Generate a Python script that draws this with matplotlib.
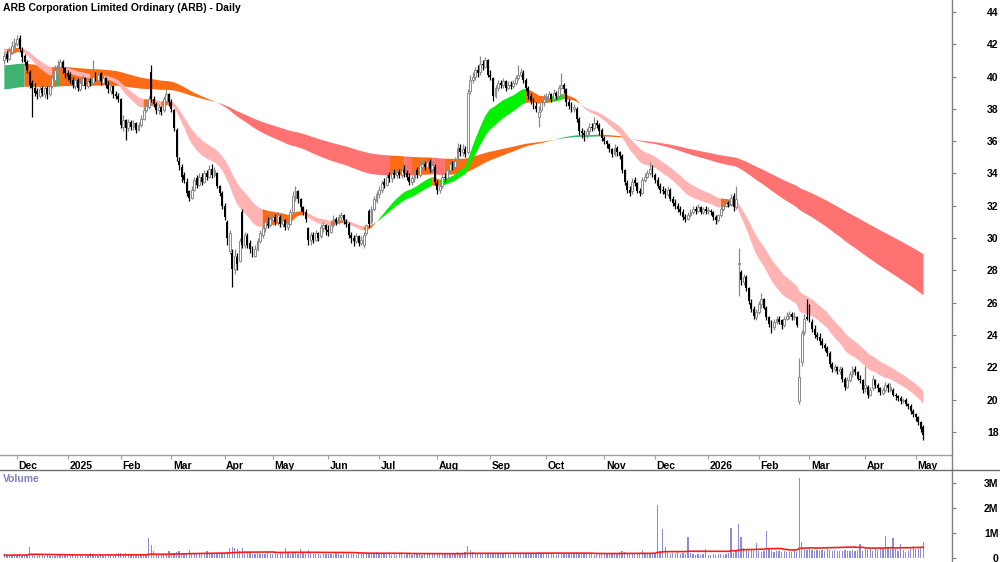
import numpy as np
import pandas as pd
import matplotlib
matplotlib.use("Agg")
import matplotlib.pyplot as plt
from matplotlib.transforms import ScaledTranslation
from matplotlib.lines import Line2D

plt.rcParams['font.family'] = ['Liberation Sans', 'DejaVu Sans']

TITLE = "ARB Corporation Limited Ordinary (ARB) - Daily"
START, END = "2024-11-25", "2026-05-06"
HOLIDAYS = ["2024-12-25", "2024-12-26", "2025-01-01", "2025-01-27", "2025-04-18",
            "2025-04-21", "2025-04-25", "2025-06-09", "2025-12-25", "2025-12-26",
            "2026-01-01", "2026-01-26", "2026-04-03", "2026-04-06"]

# ---------------- daily OHLC (A$) and volume (millions) by month ----------------
o_2411 = [41.0, 41.4, 41.1, 41.5, 41.8]
h_2411 = [41.5, 41.6, 41.8, 42.2, 42.4]
l_2411 = [40.8, 40.9, 41.0, 41.4, 41.7]
c_2411 = [41.3, 41.1, 41.6, 41.9, 42.1]
v_2411 = [0.12, 0.10, 0.11, 0.13, 0.12]

o_2412 = [42.0, 42.4, 41.6, 41.3, 40.9, 40.3, 39.6, 39.3, 39.1, 38.8, 39.3, 38.9, 39.3, 38.9, 39.4, 39.8, 40.4, 40.6, 40.9, 40.5]
h_2412 = [42.6, 42.6, 41.8, 41.4, 41.0, 40.4, 39.8, 39.6, 39.3, 39.4, 39.4, 39.5, 39.4, 39.6, 40.1, 40.7, 41.0, 41.1, 41.0, 40.6]
l_2412 = [41.9, 41.5, 40.9, 40.7, 40.2, 39.3, 37.5, 38.8, 38.6, 38.7, 38.8, 38.7, 38.6, 38.8, 39.3, 39.7, 40.2, 40.5, 40.2, 39.9]
c_2412 = [42.3, 41.7, 41.2, 40.9, 40.4, 39.5, 39.3, 39.0, 38.9, 39.2, 39.0, 39.3, 38.9, 39.4, 39.9, 40.4, 40.7, 40.9, 40.5, 40.2]
v_2412 = [0.14, 0.12, 0.10, 0.11, 0.13, 0.45, 0.18, 0.14, 0.12, 0.11, 0.13, 0.10, 0.12, 0.09, 0.10, 0.08, 0.12, 0.11, 0.10, 0.13]

o_2501 = [40.2, 40.1, 39.8, 39.4, 39.8, 39.2, 39.5, 39.9, 39.4, 39.7, 39.6, 40.1, 39.8, 40.2, 39.6, 39.9, 39.5, 39.1, 39.4, 38.9, 38.8]
h_2501 = [40.4, 40.3, 40.0, 40.0, 39.9, 39.8, 40.1, 40.0, 39.9, 39.9, 41.0, 40.3, 40.3, 40.3, 40.1, 40.0, 39.7, 39.6, 39.5, 39.1, 39.0]
l_2501 = [39.8, 39.6, 39.3, 39.2, 39.1, 39.1, 39.4, 39.2, 39.3, 39.4, 39.5, 39.7, 39.7, 39.5, 39.5, 39.3, 39.0, 38.9, 38.7, 38.6, 38.4]
c_2501 = [40.0, 39.8, 39.5, 39.8, 39.3, 39.6, 39.9, 39.4, 39.7, 39.6, 40.0, 39.9, 40.1, 39.7, 39.9, 39.5, 39.2, 39.4, 38.9, 38.8, 38.6]
v_2501 = [0.10, 0.09, 0.11, 0.08, 0.10, 0.12, 0.09, 0.10, 0.11, 0.20, 0.12, 0.10, 0.09, 0.11, 0.08, 0.10, 0.12, 0.11, 0.10, 0.13, 0.20]

o_2502 = [38.6, 36.9, 37.3, 36.8, 37.2, 36.9, 37.1, 36.7, 37.0, 37.4, 37.9, 38.1, 40.3, 38.6, 38.3, 37.9, 38.1, 37.9, 38.5, 38.9]
h_2502 = [38.7, 37.6, 37.4, 37.4, 37.3, 37.3, 37.2, 37.2, 37.6, 38.1, 38.4, 38.8, 40.7, 38.8, 38.4, 38.3, 38.2, 38.8, 39.2, 39.0]
l_2502 = [36.8, 36.6, 36.1, 36.6, 36.7, 36.7, 36.5, 36.6, 36.9, 37.3, 37.8, 38.0, 38.4, 38.1, 37.7, 37.7, 37.6, 37.8, 38.4, 38.2]
c_2502 = [37.0, 37.3, 36.8, 37.2, 36.9, 37.1, 36.7, 37.0, 37.4, 37.9, 38.2, 38.6, 38.6, 38.3, 37.9, 38.1, 37.8, 38.6, 38.9, 38.4]
v_2502 = [0.22, 0.18, 0.21, 0.15, 0.12, 0.14, 0.13, 0.11, 0.12, 0.14, 0.15, 0.80, 0.52, 0.30, 0.18, 0.15, 0.13, 0.16, 0.14, 0.30]

o_2503 = [38.4, 37.9, 36.7, 34.8, 34.4, 33.9, 33.5, 32.9, 32.5, 33.0, 33.7, 33.3, 33.8, 33.5, 34.0, 33.8, 34.3, 33.9, 34.0, 33.2, 32.8]
h_2503 = [38.6, 38.0, 36.8, 35.0, 34.6, 34.1, 33.7, 33.0, 33.2, 33.8, 33.9, 34.0, 34.0, 34.2, 34.2, 34.5, 34.6, 34.4, 34.1, 33.3, 32.9]
l_2503 = [37.8, 36.6, 34.8, 34.2, 33.5, 33.4, 32.6, 32.3, 32.4, 32.9, 33.1, 33.2, 33.3, 33.4, 33.6, 33.7, 33.7, 33.8, 33.1, 32.6, 31.8]
c_2503 = [38.0, 36.8, 35.0, 34.5, 33.8, 33.6, 32.8, 32.5, 33.0, 33.6, 33.3, 33.8, 33.5, 34.0, 33.8, 34.3, 33.9, 34.2, 33.2, 32.8, 32.0]
v_2503 = [0.20, 0.22, 0.25, 0.30, 0.18, 0.16, 0.22, 0.32, 0.20, 0.17, 0.15, 0.18, 0.16, 0.20, 0.30, 0.19, 0.15, 0.17, 0.16, 0.20, 0.22]

o_2504 = [32.0, 31.0, 29.2, 29.1, 28.1, 28.8, 28.6, 31.6, 29.6, 30.1, 29.7, 29.3, 28.9, 29.3, 29.8, 30.2, 30.6, 30.9, 30.8]
h_2504 = [32.2, 31.1, 30.5, 29.3, 29.3, 29.1, 30.0, 31.8, 30.4, 30.3, 29.9, 29.5, 29.6, 30.0, 30.5, 30.8, 31.2, 31.3, 31.5]
l_2504 = [31.1, 29.6, 29.0, 27.0, 27.8, 28.0, 28.5, 29.4, 29.4, 29.4, 29.1, 28.8, 28.8, 29.2, 29.7, 30.0, 30.4, 30.6, 30.7]
c_2504 = [31.3, 30.0, 30.3, 28.1, 28.9, 28.4, 29.8, 29.6, 30.2, 29.6, 29.3, 29.0, 29.3, 29.8, 30.3, 30.6, 31.0, 30.8, 31.2]
v_2504 = [0.22, 0.25, 0.42, 0.45, 0.40, 0.35, 0.30, 0.40, 0.25, 0.22, 0.20, 0.18, 0.16, 0.20, 0.18, 0.17, 0.15, 0.19, 0.16]

o_2505 = [31.1, 31.3, 31.0, 31.3, 30.9, 31.1, 30.7, 30.9, 31.6, 32.5, 32.9, 32.4, 31.9, 31.6, 30.6, 29.9, 30.2, 29.9, 30.3, 30.1, 30.6, 30.8]
h_2505 = [31.6, 31.5, 31.6, 31.4, 31.3, 31.2, 31.1, 31.8, 32.9, 33.2, 33.0, 32.5, 32.0, 31.8, 30.7, 30.4, 30.4, 30.5, 30.4, 30.9, 31.0, 30.9]
l_2505 = [30.9, 30.8, 30.8, 30.7, 30.7, 30.5, 30.5, 30.8, 31.5, 32.3, 32.2, 31.7, 31.4, 31.0, 29.6, 29.6, 29.7, 29.8, 29.8, 30.0, 30.4, 30.2]
c_2505 = [31.3, 31.0, 31.4, 30.9, 31.1, 30.7, 30.9, 31.6, 32.6, 32.9, 32.4, 31.9, 31.6, 31.2, 29.9, 30.2, 29.9, 30.3, 30.0, 30.7, 30.8, 30.5]
v_2505 = [0.18, 0.20, 0.16, 0.22, 0.25, 0.40, 0.20, 0.18, 0.22, 0.19, 0.17, 0.36, 0.20, 0.18, 0.32, 0.22, 0.18, 0.15, 0.17, 0.14, 0.16, 0.18]

o_2506 = [30.5, 30.4, 30.8, 31.2, 31.0, 31.3, 31.4, 31.0, 30.9, 30.2, 30.0, 29.8, 30.1, 29.7, 29.6, 30.3, 31.7, 31.0, 31.8, 32.3]
h_2506 = [30.8, 31.0, 31.4, 31.3, 31.5, 31.6, 31.5, 31.2, 31.0, 30.4, 30.2, 30.3, 30.2, 30.1, 30.4, 30.9, 31.8, 32.0, 32.6, 32.9]
l_2506 = [30.1, 30.3, 30.7, 30.8, 30.9, 31.1, 30.9, 30.7, 30.0, 29.7, 29.5, 29.7, 29.5, 29.6, 29.4, 30.2, 30.7, 30.9, 31.7, 32.2]
c_2506 = [30.4, 30.8, 31.2, 31.0, 31.3, 31.4, 31.1, 30.9, 30.2, 30.0, 29.8, 30.1, 29.7, 29.9, 30.2, 30.8, 30.9, 31.8, 32.4, 32.7]
v_2506 = [0.15, 0.17, 0.14, 0.20, 0.16, 0.13, 0.15, 0.18, 0.22, 0.17, 0.15, 0.14, 0.25, 0.16, 0.18, 0.22, 0.20, 0.17, 0.19, 0.24]

o_2507 = [32.7, 33.0, 33.5, 33.3, 33.9, 33.7, 34.0, 33.9, 34.1, 33.9, 34.2, 34.0, 33.8, 33.5, 33.7, 34.2, 33.9, 34.4, 34.6, 34.4, 34.7, 34.3, 34.4]
h_2507 = [33.2, 33.6, 33.7, 34.0, 34.1, 34.2, 34.3, 34.4, 34.3, 34.4, 34.5, 34.2, 34.0, 33.9, 34.3, 34.4, 34.7, 34.9, 34.8, 34.9, 34.9, 34.8, 34.6]
l_2507 = [32.5, 32.8, 33.1, 33.2, 33.5, 33.5, 33.7, 33.7, 33.7, 33.7, 33.8, 33.6, 33.3, 33.3, 33.5, 33.7, 33.8, 34.2, 34.2, 34.2, 34.1, 34.1, 33.3]
c_2507 = [33.0, 33.4, 33.3, 33.8, 33.7, 34.0, 33.9, 34.1, 33.9, 34.2, 34.0, 33.8, 33.5, 33.7, 34.1, 33.9, 34.5, 34.6, 34.4, 34.7, 34.3, 34.5, 33.5]
v_2507 = [0.18, 0.16, 0.20, 0.15, 0.17, 0.14, 0.16, 0.13, 0.15, 0.18, 0.14, 0.16, 0.15, 0.13, 0.17, 0.15, 0.19, 0.14, 0.16, 0.15, 0.18, 0.17, 0.22]

o_2508 = [33.4, 33.0, 33.2, 33.8, 33.7, 34.2, 34.6, 34.4, 34.9, 35.6, 35.3, 35.5, 35.3, 39.1, 39.8, 40.0, 40.4, 40.3, 40.8, 40.6, 41.0]
h_2508 = [33.6, 33.4, 34.0, 34.0, 34.4, 34.8, 34.8, 35.0, 35.9, 35.8, 35.8, 35.7, 39.2, 40.1, 40.3, 40.6, 40.7, 41.3, 41.0, 41.2, 41.1]
l_2508 = [32.7, 32.8, 33.1, 33.5, 33.6, 34.1, 34.2, 34.3, 34.8, 35.1, 35.1, 35.0, 35.2, 38.9, 39.6, 39.8, 40.0, 40.1, 40.4, 40.5, 40.0]
c_2508 = [33.0, 33.2, 33.8, 33.7, 34.2, 34.6, 34.4, 34.8, 35.6, 35.3, 35.5, 35.2, 39.0, 39.8, 40.0, 40.4, 40.2, 40.8, 40.7, 41.0, 40.1]
v_2508 = [0.20, 0.18, 0.16, 0.15, 0.17, 0.16, 0.18, 0.20, 0.25, 0.22, 0.19, 0.24, 0.48, 0.32, 0.25, 0.22, 0.20, 0.18, 0.22, 0.19, 0.21]

o_2509 = [40.1, 39.9, 38.8, 39.3, 39.6, 39.5, 39.7, 39.3, 39.5, 39.4, 39.6, 39.9, 40.1, 40.2, 39.8, 39.3, 38.8, 38.5, 38.2, 37.5, 37.9, 38.4]
h_2509 = [40.4, 40.0, 39.5, 39.8, 39.8, 39.9, 39.8, 39.7, 39.7, 39.8, 40.1, 40.7, 40.5, 40.4, 39.9, 39.4, 39.0, 38.7, 38.4, 38.2, 38.6, 38.9]
l_2509 = [39.8, 38.5, 38.7, 39.1, 39.3, 39.3, 39.1, 39.2, 39.2, 39.3, 39.5, 39.8, 40.0, 39.6, 39.1, 38.6, 38.3, 38.0, 37.8, 36.9, 37.8, 38.2]
c_2509 = [40.0, 38.8, 39.3, 39.6, 39.5, 39.7, 39.3, 39.5, 39.4, 39.6, 39.9, 40.1, 40.3, 39.8, 39.3, 38.8, 38.5, 38.2, 38.0, 37.8, 38.4, 38.6]
v_2509 = [0.18, 0.20, 0.17, 0.16, 0.18, 0.15, 0.17, 0.16, 0.14, 0.18, 0.16, 0.19, 0.17, 0.22, 0.18, 0.20, 0.17, 0.19, 0.21, 0.24, 0.18, 0.20]

o_2510 = [38.6, 38.7, 38.9, 38.6, 39.0, 38.8, 39.3, 39.5, 39.2, 38.4, 38.2, 38.0, 38.0, 37.4, 36.6, 36.5, 36.4, 36.6, 36.9, 36.8, 37.1, 37.0, 36.7]
h_2510 = [39.0, 39.1, 39.0, 39.2, 39.1, 39.5, 40.2, 39.6, 39.3, 38.6, 38.4, 38.3, 38.1, 37.5, 36.8, 36.7, 36.8, 37.1, 37.1, 37.5, 37.3, 37.1, 36.8]
l_2510 = [38.4, 38.5, 38.4, 38.5, 38.6, 38.7, 39.2, 39.0, 38.2, 38.0, 37.8, 37.8, 37.2, 36.4, 36.2, 36.0, 36.2, 36.4, 36.6, 36.7, 36.8, 36.4, 36.0]
c_2510 = [38.7, 38.9, 38.6, 39.0, 38.8, 39.3, 39.5, 39.2, 38.4, 38.2, 38.0, 38.1, 37.4, 36.6, 36.5, 36.4, 36.6, 36.9, 36.8, 37.1, 37.0, 36.6, 36.2]
v_2510 = [0.17, 0.15, 0.18, 0.16, 0.14, 0.17, 0.20, 0.18, 0.22, 0.16, 0.15, 0.17, 0.24, 0.20, 0.18, 0.16, 0.17, 0.15, 0.16, 0.14, 0.18, 0.17, 0.19]

o_2511 = [36.2, 36.0, 35.8, 35.5, 35.2, 35.6, 35.3, 35.1, 34.2, 33.4, 33.0, 32.9, 33.6, 33.4, 32.9, 32.8, 33.6, 33.8, 34.0, 34.4]
h_2511 = [36.3, 36.1, 35.9, 35.6, 35.8, 35.7, 35.4, 35.2, 34.3, 33.6, 33.2, 33.7, 33.8, 33.5, 33.1, 33.8, 34.0, 34.2, 34.7, 34.5]
l_2511 = [35.8, 35.6, 35.3, 35.0, 35.1, 35.1, 34.9, 34.0, 33.3, 32.8, 32.6, 32.7, 33.2, 32.8, 32.6, 32.7, 33.5, 33.7, 33.9, 33.8]
c_2511 = [36.0, 35.8, 35.5, 35.2, 35.6, 35.3, 35.1, 34.2, 33.5, 33.0, 32.8, 33.5, 33.4, 32.9, 32.8, 33.6, 33.8, 34.0, 34.3, 33.9]
v_2511 = [0.18, 0.16, 0.20, 0.17, 0.22, 0.18, 0.24, 0.30, 0.25, 0.20, 0.18, 0.22, 0.16, 0.19, 0.18, 0.32, 0.20, 0.17, 0.15, 0.18]

o_2512 = [33.9, 33.6, 33.2, 33.0, 32.9, 32.7, 33.0, 32.4, 32.2, 32.0, 31.8, 31.6, 31.3, 31.2, 31.4, 31.6, 31.8, 31.7, 31.9, 31.6, 31.8]
h_2512 = [34.0, 33.8, 33.4, 33.2, 33.1, 33.2, 33.1, 32.6, 32.4, 32.2, 32.0, 31.8, 31.5, 31.6, 31.8, 32.0, 32.0, 32.1, 32.0, 31.9, 32.0]
l_2512 = [33.4, 33.1, 32.8, 32.7, 32.5, 32.6, 32.3, 32.0, 31.8, 31.6, 31.4, 31.1, 31.0, 31.1, 31.3, 31.5, 31.5, 31.6, 31.5, 31.5, 31.5]
c_2512 = [33.6, 33.2, 33.0, 32.9, 32.7, 33.0, 32.4, 32.2, 32.0, 31.8, 31.6, 31.3, 31.2, 31.4, 31.6, 31.8, 31.7, 31.9, 31.6, 31.8, 31.7]
v_2512 = [0.20, 2.13, 0.30, 1.15, 0.45, 0.22, 0.18, 0.20, 0.16, 0.24, 0.18, 0.20, 0.15, 0.84, 0.22, 0.18, 0.12, 0.15, 0.14, 0.16, 0.35]

o_2601 = [31.7, 31.7, 31.6, 31.3, 31.1, 31.4, 31.8, 32.0, 32.2, 32.1, 32.6, 31.9, 28.4, 27.9, 27.3, 27.6, 26.9, 26.0, 25.6, 25.1]
h_2601 = [31.9, 31.8, 31.7, 31.4, 31.5, 31.9, 32.1, 32.4, 32.3, 32.7, 32.8, 33.2, 29.4, 28.0, 27.8, 27.7, 27.0, 26.2, 25.8, 25.6]
l_2601 = [31.5, 31.4, 31.1, 30.9, 31.0, 31.3, 31.7, 31.9, 31.9, 32.0, 31.7, 31.8, 26.4, 27.1, 27.1, 26.7, 25.9, 25.4, 25.0, 24.9]
c_2601 = [31.7, 31.6, 31.3, 31.1, 31.4, 31.8, 32.0, 32.2, 32.1, 32.5, 31.9, 32.4, 28.4, 27.4, 27.6, 26.9, 26.1, 25.6, 25.2, 25.4]
v_2601 = [0.14, 0.12, 0.16, 0.13, 0.15, 0.18, 0.14, 0.16, 0.20, 1.19, 0.22, 0.30, 1.38, 0.85, 0.42, 0.38, 0.30, 0.35, 0.28, 0.60]

o_2602 = [25.4, 25.9, 26.2, 25.7, 25.1, 24.7, 24.5, 24.8, 25.0, 24.9, 24.6, 25.0, 25.2, 25.3, 25.1, 25.1, 19.9, 22.3, 24.2, 25.1]
h_2602 = [26.1, 26.6, 26.3, 25.8, 25.2, 24.9, 25.0, 25.2, 25.2, 25.0, 25.2, 25.4, 25.5, 25.4, 25.4, 25.2, 22.6, 24.3, 25.3, 26.2]
l_2602 = [25.3, 25.7, 25.6, 24.9, 24.5, 24.1, 24.3, 24.7, 24.7, 24.4, 24.5, 24.9, 25.0, 24.9, 24.9, 24.5, 19.7, 22.1, 24.0, 24.9]
c_2602 = [25.9, 26.2, 25.7, 25.1, 24.7, 24.5, 24.8, 25.0, 24.8, 24.6, 25.0, 25.2, 25.3, 25.1, 25.2, 24.6, 21.4, 24.1, 25.0, 25.0]
v_2602 = [0.30, 0.26, 0.28, 1.10, 0.40, 0.28, 0.26, 0.30, 0.27, 0.25, 0.28, 0.24, 0.26, 0.23, 0.28, 0.26, 3.20, 0.65, 0.38, 0.33]

o_2603 = [25.7, 24.8, 24.4, 24.0, 23.9, 23.6, 23.4, 23.2, 22.9, 22.2, 21.9, 22.0, 21.8, 21.9, 21.3, 20.8, 21.2, 21.6, 21.9, 21.7, 21.3, 21.2]
h_2603 = [25.9, 25.0, 24.6, 24.2, 24.1, 23.8, 23.5, 23.3, 23.0, 22.3, 22.2, 22.1, 22.1, 22.0, 21.4, 21.4, 21.8, 22.1, 22.1, 21.8, 21.5, 21.3]
l_2603 = [24.8, 24.2, 23.8, 23.7, 23.4, 23.2, 23.0, 22.7, 22.0, 21.7, 21.7, 21.6, 21.6, 21.1, 20.6, 20.7, 21.1, 21.4, 21.5, 21.2, 21.0, 20.4]
c_2603 = [24.9, 24.4, 24.0, 23.9, 23.6, 23.4, 23.2, 22.9, 22.2, 21.9, 22.0, 21.8, 21.9, 21.3, 20.8, 21.2, 21.6, 21.9, 21.7, 21.3, 21.2, 20.6]
v_2603 = [0.36, 0.33, 0.30, 0.34, 0.28, 0.32, 0.27, 0.38, 0.31, 0.28, 0.33, 0.27, 0.29, 0.30, 0.34, 0.29, 0.27, 0.31, 0.29, 0.33, 0.55, 0.30]

o_2604 = [20.7, 20.8, 20.3, 20.7, 21.2, 20.9, 20.7, 20.4, 20.6, 20.9, 20.6, 20.6, 20.3, 20.2, 20.1, 19.9, 20.0, 19.7, 19.6, 19.3]
h_2604 = [22.1, 20.9, 20.8, 21.5, 21.3, 21.0, 20.8, 20.8, 21.1, 21.0, 21.0, 20.7, 20.4, 20.3, 20.2, 20.1, 20.1, 19.8, 19.7, 19.4]
l_2604 = [20.5, 20.1, 20.2, 20.6, 20.7, 20.5, 20.3, 20.3, 20.5, 20.5, 20.5, 20.2, 20.0, 19.9, 19.7, 19.8, 19.6, 19.4, 19.1, 18.9]
c_2604 = [20.9, 20.3, 20.6, 21.3, 20.9, 20.7, 20.5, 20.6, 20.9, 20.7, 20.8, 20.3, 20.2, 20.1, 19.9, 20.0, 19.7, 19.6, 19.3, 19.1]
v_2604 = [0.35, 0.32, 0.38, 0.30, 0.36, 0.33, 0.40, 0.35, 0.90, 0.45, 0.38, 0.80, 0.35, 0.30, 0.55, 0.32, 0.25, 0.30, 0.35, 0.50]

o_2605 = [19.1, 18.9, 18.6, 18.3]
h_2605 = [19.2, 19.0, 18.7, 18.4]
l_2605 = [18.7, 18.4, 18.0, 17.5]
c_2605 = [18.9, 18.6, 18.2, 17.8]
v_2605 = [0.38, 0.35, 0.40, 0.65]

# moving-average ribbon settings (EMA periods and values at the first bar)
short_periods = (21, 34)
short_seed = (41.30, 41.75)
long_periods = (144, 233)
long_seed = (40.70, 39.20)
vol_ma_period = 50

MONTHS = ["2411", "2412", "2501", "2502", "2503", "2504", "2505", "2506", "2507",
          "2508", "2509", "2510", "2511", "2512", "2601", "2602", "2603", "2604", "2605"]
g = globals()
opn = np.concatenate([g["o_" + m] for m in MONTHS])
high = np.concatenate([g["h_" + m] for m in MONTHS])
low = np.concatenate([g["l_" + m] for m in MONTHS])
close = np.concatenate([g["c_" + m] for m in MONTHS])
vol = np.concatenate([g["v_" + m] for m in MONTHS]) * 1e6

dates = pd.bdate_range(START, END)
dates = dates[~dates.isin(pd.to_datetime(HOLIDAYS))]
n = len(close)
dates = dates[:n]
x = np.arange(n)


def ema(values, period, seed):
    a = 2.0 / (period + 1)
    out = np.empty(len(values))
    out[0] = seed
    for i in range(1, len(values)):
        out[i] = out[i - 1] + a * (values[i] - out[i - 1])
    return out


def band_states(fast, slow):
    rising = np.r_[fast[1] > fast[0], fast[1:] > fast[:-1]]
    bull = fast > slow
    return np.where(bull & rising, 0, np.where(~bull & ~rising, 1, 2))


# ---------------- figure ----------------
W, H = 1000, 562
fig = plt.figure(figsize=(W / 100, H / 100), dpi=100)
ax = fig.add_axes([0, 1 - 455 / H, 952 / W, 455 / H])
axv = fig.add_axes([0, 0, 952 / W, 92 / H])

x_left = -1.714
x_right = 374.3
for a in (ax, axv):
    a.set_xlim(x_left, x_right)
    for s in ("left", "top", "right"):
        a.spines[s].set_visible(False)
ax.set_ylim(16.57, 44.74)

# ribbons
sf = ema(close, short_periods[0], short_seed[0])
ss = ema(close, short_periods[1], short_seed[1])
lf = ema(close, long_periods[0], long_seed[0])
ls = ema(close, long_periods[1], long_seed[1])

long_cols = ["#3cb371", "#ff7272", "#ff6a14"]
short_cols = ["#00f000", "#ffb3b3", "#ff6a14"]
for fast, slow, cols, z in ((lf, ls, long_cols, 1), (sf, ss, short_cols, 2)):
    st = band_states(fast, slow)
    for k, col in enumerate(cols):
        m = st == k
        m_ext = m | np.r_[m[1:], False]
        ax.fill_between(x, fast, slow, where=m_ext, color=col, lw=0, zorder=z,
                        interpolate=False)

# candles
up = close >= opn
dn = ~up
ax.vlines(x[up], low[up], high[up], color="#8a8a8a", lw=0.9, zorder=3)
ax.vlines(x[dn], low[dn], high[dn], color="black", lw=0.9, zorder=3)
ax.bar(x[up], np.maximum(close - opn, 0.05)[up], bottom=opn[up], width=0.75,
       facecolor="white", edgecolor="#8a8a8a", linewidth=0.7, zorder=4)
ax.bar(x[dn], np.maximum(opn - close, 0.05)[dn], bottom=close[dn], width=0.75,
       color="black", linewidth=0, zorder=4)

# price axis (right)
ax.yaxis.tick_right()
ax.set_yticks(np.arange(18, 45, 2))
ax.tick_params(axis="y", direction="out", length=3, width=0.8, colors="#808080",
               labelcolor="black", labelsize=7.5, pad=30.5)
for t in ax.get_yticklabels():
    t.set_horizontalalignment("right")
    t.set_fontweight("bold")

# month ticks
month_starts = [i for i in range(1, n) if dates[i].month != dates[i - 1].month]
month_labels = [str(dates[i].year) if dates[i].month == 1 else dates[i].strftime("%b")
                for i in month_starts]
ax.set_xticks(month_starts)
ax.set_xticklabels(month_labels)
ax.tick_params(axis="x", direction="out", length=3, width=0.8, colors="#a0a0a0",
               labelcolor="black", labelsize=7.5, pad=1.0)
off = ScaledTranslation(1.5 / 100, 0, fig.dpi_scale_trans)
for t in ax.get_xticklabels():
    t.set_horizontalalignment("left")
    t.set_fontweight("bold")
    t.set_transform(t.get_transform() + off)
ax.spines["bottom"].set_color("#a0a0a0")
ax.spines["bottom"].set_linewidth(1.0)

# volume
vol_ma = pd.Series(vol).rolling(vol_ma_period, min_periods=1).mean().values
axv.bar(x, vol, width=0.5, color="#8c8cd2", linewidth=0, zorder=2)
axv.plot(x, vol_ma, color="#ff1a1a", lw=1.2, zorder=3)
axv.set_ylim(-0.16e6, 3.52e6)
axv.spines["bottom"].set_visible(False)
axv.set_xticks([])
axv.yaxis.tick_right()
axv.set_yticks([0, 1e6, 2e6, 3e6])
axv.set_yticklabels(["0", "1M", "2M", "3M"])
axv.tick_params(axis="y", direction="out", length=3, width=0.8, colors="#808080",
                labelcolor="black", labelsize=7.5, pad=30.5)
for t in axv.get_yticklabels():
    t.set_horizontalalignment("right")
    t.set_fontweight("bold")

# frame lines
fig.add_artist(Line2D([952 / W, 952 / W], [0, 1], transform=fig.transFigure,
                      color="#808080", lw=1.0))
fig.add_artist(Line2D([0, 1], [1 - 469.5 / H] * 2, transform=fig.transFigure,
                      color="#707070", lw=1.0))

fig.text(3 / W, 1 - 8 / H, TITLE, fontsize=7.5, fontweight="bold", ha="left", va="center")
fig.text(3 / W, 1 - 479 / H, "Volume", fontsize=7.5, fontweight="bold",
         color="#8080c0", ha="left", va="center")

fig.savefig("out.png", dpi=100)
